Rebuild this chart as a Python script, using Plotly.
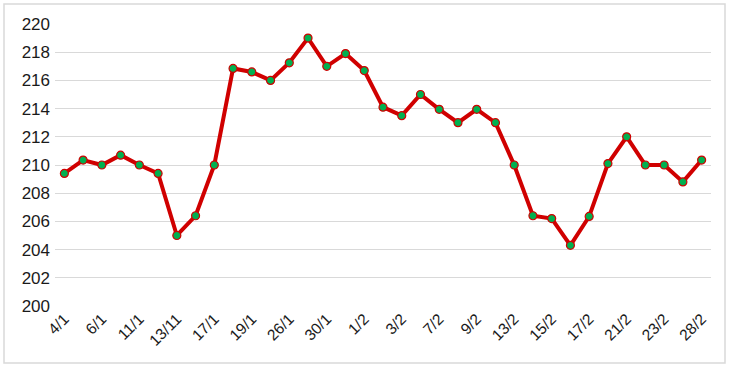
import plotly.graph_objects as go

labels = ["4/1", "5/1", "6/1", "10/1", "11/1", "12/1", "13/11", "16/1", "17/1", "18/1",
          "19/1", "25/1", "26/1", "29/1", "30/1", "31/1", "1/2", "2/2", "3/2", "6/2",
          "7/2", "8/2", "9/2", "12/2", "13/2", "14/2", "15/2", "16/2", "17/2", "20/2",
          "21/2", "22/2", "23/2", "27/2", "28/2"]
shown_labels = ["4/1", "6/1", "11/1", "13/11", "17/1", "19/1", "26/1", "30/1", "1/2",
                "3/2", "7/2", "9/2", "13/2", "15/2", "17/2", "21/2", "23/2", "28/2"]
values = [209.4, 210.35, 210.0, 210.7, 210.0, 209.4, 205.0, 206.4, 210.0, 216.85,
          216.6, 216.0, 217.25, 219.0, 217.0, 217.9, 216.7, 214.1, 213.5, 215.0,
          213.95, 213.0, 213.95, 213.0, 210.0, 206.4, 206.2, 204.3, 206.35, 210.1,
          212.0, 210.0, 210.0, 208.8, 210.35]
y_ticks = list(range(200, 221, 2))

x_idx = list(range(len(values)))
tick_pos = x_idx[::2]

fig = go.Figure()
fig.add_trace(go.Scatter(
    x=x_idx, y=values, mode="lines+markers",
    line=dict(color="#D00000", width=4),
    marker=dict(color="#00B050", size=8, line=dict(color="#D00000", width=1.2)),
    hoverinfo="skip", showlegend=False,
))

fig.update_layout(
    width=731, height=370,
    margin=dict(l=55, r=20, t=24, b=64),
    paper_bgcolor="white", plot_bgcolor="white",
    font=dict(family="Liberation Sans, Arial, sans-serif", color="#1a1a1a"),
    xaxis=dict(
        range=[-0.5, len(values) - 0.5],
        tickmode="array", tickvals=tick_pos, ticktext=shown_labels,
        tickangle=-45, tickfont=dict(size=15.5), showgrid=False,
        showline=False, zeroline=False, ticks="",
    ),
    yaxis=dict(
        range=[200, 220], tickmode="array", tickvals=y_ticks,
        tickfont=dict(size=17), showgrid=True, gridcolor="#D9D9D9", gridwidth=1.3,
        zeroline=False, showline=False, ticks="", ticklabelstandoff=4,
    ),
    shapes=[dict(
        type="rect", xref="paper", yref="paper",
        x0=(4 - 55) / 656, x1=(725 - 55) / 656,
        y0=(306 - 363) / 282, y1=(306 - 4) / 282,
        line=dict(color="#D9D9D9", width=1.5), layer="below",
    )],
)

fig.write_html("out.html")
